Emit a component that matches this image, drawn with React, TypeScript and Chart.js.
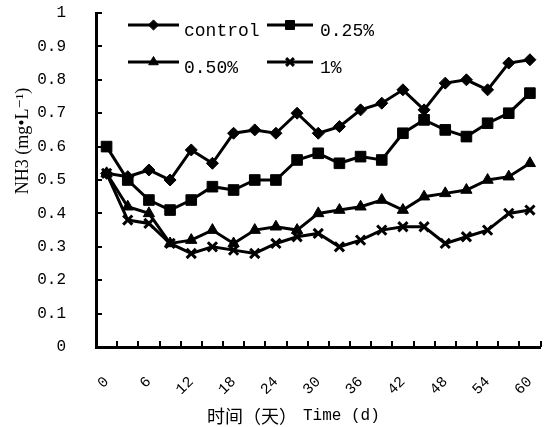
import React, { useEffect, useRef } from 'react';
import { Chart, registerables } from 'chart.js';
import { drawPoint } from 'chart.js/helpers';

Chart.register(...registerables);

// Sampling days (every 3 days, 0–60)
const days = ['0', '3', '6', '9', '12', '15', '18', '21', '24', '27', '30', '33', '36', '39', '42', '45', '48', '51', '54', '57', '60'];

// NH3 concentration (mg·L⁻¹) per treatment
const control = [0.52, 0.51, 0.53, 0.50, 0.59, 0.55, 0.64, 0.65, 0.64, 0.70, 0.64, 0.66, 0.71, 0.73, 0.77, 0.71, 0.79, 0.80, 0.77, 0.85, 0.86];
const pct025 = [0.60, 0.50, 0.44, 0.41, 0.44, 0.48, 0.47, 0.50, 0.50, 0.56, 0.58, 0.55, 0.57, 0.56, 0.64, 0.68, 0.65, 0.63, 0.67, 0.70, 0.76];
const pct050 = [0.52, 0.42, 0.40, 0.31, 0.32, 0.35, 0.31, 0.35, 0.36, 0.35, 0.40, 0.41, 0.42, 0.44, 0.41, 0.45, 0.46, 0.47, 0.50, 0.51, 0.55];
const pct100 = [0.52, 0.38, 0.37, 0.31, 0.28, 0.30, 0.29, 0.28, 0.31, 0.33, 0.34, 0.30, 0.32, 0.35, 0.36, 0.36, 0.31, 0.33, 0.35, 0.40, 0.41];

const seriesNames = ['control', '0.25%', '0.50%', '1%'];

const xTitleCjk = '时间（天）';
const xTitleLatin = 'Time (d)';
const yTitle = 'NH3 (mg•L⁻¹)';

const MONO = "'Liberation Mono', 'DejaVu Sans Mono', monospace";
const SERIF = "'Liberation Serif', 'DejaVu Serif', serif";
const CJK = "'Noto Sans CJK SC', sans-serif";

// Inward tick marks on both axes
const innerTicks = {
  id: 'innerTicks',
  afterDraw(chart: any) {
    const { ctx, chartArea: a, scales } = chart;
    const xs = scales.x;
    const ys = scales.y;
    ctx.save();
    ctx.strokeStyle = '#000';
    ctx.lineWidth = 2;
    ys.ticks.forEach((t: any) => {
      const py = Math.round(ys.getPixelForValue(t.value));
      ctx.beginPath();
      ctx.moveTo(a.left, py);
      ctx.lineTo(a.left + 6, py);
      ctx.stroke();
    });
    const n = days.length;
    for (let i = 0; i < n; i++) {
      const px = i < n - 1 ? (xs.getPixelForValue(i) + xs.getPixelForValue(i + 1)) / 2 : a.right;
      ctx.beginPath();
      ctx.moveTo(Math.round(px), a.bottom);
      ctx.lineTo(Math.round(px), a.bottom - 6);
      ctx.stroke();
    }
    ctx.restore();
  },
};

// Two-column legend inside the plot, plus axis titles
const annotations = {
  id: 'annotations',
  afterDraw(chart: any) {
    const { ctx, chartArea: a } = chart;
    ctx.save();
    ctx.fillStyle = '#000';
    ctx.strokeStyle = '#000';

    const cols = [
      { x1: a.left + 32, x2: a.left + 83, tx: a.left + 88 },
      { x1: a.left + 171, x2: a.left + 217, tx: a.left + 224 },
    ];
    const rows = [a.top + 12, a.top + 49];
    chart.data.datasets.forEach((ds: any, i: number) => {
      const c = cols[i % 2];
      const ly = rows[Math.floor(i / 2)];
      ctx.lineWidth = 3;
      ctx.beginPath();
      ctx.moveTo(c.x1, ly);
      ctx.lineTo(c.x2, ly);
      ctx.stroke();
      ctx.lineWidth = ds.pointBorderWidth;
      drawPoint(ctx, { pointStyle: ds.pointStyle, radius: ds.pointRadius * 0.85, borderWidth: ds.pointBorderWidth, rotation: 0 }, (c.x1 + c.x2) / 2, ly);
      ctx.font = `18px ${MONO}`;
      ctx.textAlign = 'left';
      ctx.textBaseline = 'middle';
      ctx.fillText(ds.label, c.tx, ly + 6);
    });

    // y-axis title
    ctx.save();
    ctx.translate(23, 141);
    ctx.rotate(-Math.PI / 2);
    ctx.font = `18px ${SERIF}`;
    ctx.textAlign = 'center';
    ctx.textBaseline = 'middle';
    ctx.fillText(yTitle, 0, 0);
    ctx.restore();

    // x-axis title
    ctx.textAlign = 'left';
    ctx.textBaseline = 'middle';
    ctx.font = `18px ${CJK}`;
    const x0 = 207;
    const ty = 416;
    ctx.fillText(xTitleCjk, x0, ty);
    const w = ctx.measureText(xTitleCjk).width;
    ctx.font = `16px ${MONO}`;
    ctx.fillText(xTitleLatin, x0 + w + 6, ty);
    ctx.restore();
  },
};

export default function App() {
  const ref = useRef<HTMLCanvasElement | null>(null);

  useEffect(() => {
    if (!ref.current) return;
    const base = {
      borderColor: '#000',
      backgroundColor: '#000',
      pointBackgroundColor: '#000',
      pointBorderColor: '#000',
      borderWidth: 3,
      tension: 0,
    };
    const chart = new Chart(ref.current, {
      type: 'line',
      data: {
        labels: days,
        datasets: [
          { ...base, label: seriesNames[0], data: control, pointStyle: 'rectRot', pointRadius: 6, pointBorderWidth: 1 },
          { ...base, label: seriesNames[1], data: pct025, pointStyle: 'rect', pointRadius: 7.5, pointBorderWidth: 1 },
          { ...base, label: seriesNames[2], data: pct050, pointStyle: 'triangle', pointRadius: 6.5, pointBorderWidth: 1 },
          { ...base, label: seriesNames[3], data: pct100, pointStyle: 'crossRot', pointRadius: 6.5, pointBorderWidth: 3 },
        ],
      },
      options: {
        animation: false,
        responsive: true,
        maintainAspectRatio: false,
        layout: { padding: { top: 13, right: 2, left: 0, bottom: 0 } },
        plugins: {
          legend: { display: false },
          tooltip: { enabled: false },
        },
        scales: {
          x: {
            type: 'category',
            offset: true,
            grid: { display: true, offset: true, drawOnChartArea: false, drawTicks: false },
            border: { display: true, color: '#000', width: 3 },
            ticks: {
              autoSkip: false,
              minRotation: 45,
              maxRotation: 45,
              padding: 26,
              color: '#000',
              font: { family: MONO, size: 15 },
              callback: (_v: any, i: number) => (i % 2 === 0 ? days[i] : ''),
            },
            afterFit: (s: any) => {
              s.height = 80;
              s.paddingLeft = 0;
              s.paddingRight = 0;
            },
          },
          y: {
            min: 0,
            max: 1,
            grid: { display: true, drawOnChartArea: false, drawTicks: false },
            border: { display: true, color: '#000', width: 3 },
            ticks: {
              stepSize: 0.1,
              padding: 30,
              color: '#000',
              font: { family: MONO, size: 16 },
              callback: (v: any) => String(Number(Number(v).toFixed(1))),
            },
            afterFit: (s: any) => {
              s.width = 96;
              s.paddingTop = 0;
              s.paddingBottom = 0;
            },
          },
        },
      },
      plugins: [innerTicks, annotations],
    });
    return () => chart.destroy();
  }, []);

  return (
    <div style={{ position: 'fixed', left: 0, top: 0, width: 550, height: 427, background: '#fff' }}>
      <canvas ref={ref} />
    </div>
  );
}
